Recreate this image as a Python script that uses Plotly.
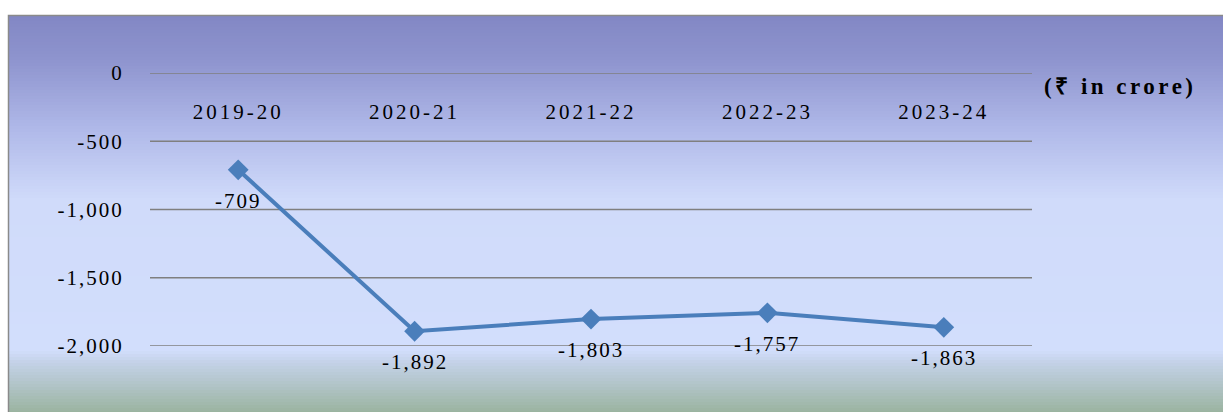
import plotly.graph_objects as go

years = ["2019-20", "2020-21", "2021-22", "2022-23", "2023-24"]
values = [-709, -1892, -1803, -1757, -1863]
y_ticks = [0, -500, -1000, -1500, -2000]
unit_label = "(₹ in crore)"

W, H = 1223, 412
L, R, T, B = 150, 191, 73, 66
PW, PH = W - L - R, H - T - B

def px_x(px):
    return (px - L) / PW

def px_y(py):
    return (H - B - py) / PH

def sp(s, ls=3):
    return f'<span style="letter-spacing:{ls}px">{s}</span>'

# background gradient (pixel y, rgb)
stops = [(15, (130, 135, 196)), (60, (142, 148, 206)), (130, (176, 185, 233)),
         (200, (208, 219, 250)), (350, (210, 222, 252)), (362, (196, 210, 232)),
         (385, (177, 196, 200)), (412, (155, 180, 160))]

def col_at(y):
    for (y0, c0), (y1, c1) in zip(stops, stops[1:]):
        if y0 <= y <= y1:
            t = (y - y0) / (y1 - y0)
            return tuple(round(a + (b - a) * t) for a, b in zip(c0, c1))
    return stops[-1][1]

shapes = []
step = 3
y = 15
while y < H:
    c = col_at(y + step / 2)
    shapes.append(dict(type="rect", xref="paper", yref="paper", layer="below",
                       x0=px_x(8), x1=px_x(W + 2), y0=px_y(min(y + step, H + 1)), y1=px_y(y),
                       fillcolor=f"rgb{c}", line=dict(width=0)))
    y += step
# frame border
shapes.append(dict(type="rect", xref="paper", yref="paper", layer="below",
                   x0=px_x(8.5), x1=px_x(W + 5), y0=px_y(H + 5), y1=px_y(15.5),
                   fillcolor="rgba(0,0,0,0)", line=dict(color="#8a8a8a", width=1.5)))
# gridlines
for v in y_ticks:
    shapes.append(dict(type="line", xref="paper", yref="y", layer="below",
                       x0=0, x1=1, y0=v, y1=v, line=dict(color="#7f7f7f", width=1.5)))

fig = go.Figure()
fig.add_trace(go.Scatter(
    x=years, y=values, mode="lines+markers",
    line=dict(color="#4a7ebb", width=4),
    marker=dict(symbol="diamond", size=16, color="#4a7ebb"),
    cliponaxis=False, showlegend=False, hoverinfo="skip",
))

for yr, v in zip(years, values):
    fig.add_annotation(x=yr, y=v, xref="x", yref="y", yshift=-31, showarrow=False,
                       xanchor="center", yanchor="middle",
                       text=sp(f"{v:,}", 2),
                       font=dict(family="Liberation Serif", size=21, color="#000000"))

fig.add_annotation(xref="paper", yref="paper", x=px_x(1042), y=px_y(86),
                   xanchor="left", yanchor="middle", showarrow=False,
                   text=f"<b>{sp(unit_label, 3.5)}</b>",
                   font=dict(family="Liberation Serif", size=23, color="#000000"))

fig.update_layout(
    width=W, height=H, margin=dict(l=L, r=R, t=T, b=B),
    paper_bgcolor="white", plot_bgcolor="rgba(0,0,0,0)",
    shapes=shapes,
    xaxis=dict(side="bottom", anchor="free", position=1, ticks="outside", ticklen=20,
               tickcolor="rgba(0,0,0,0)", showgrid=False, zeroline=False, showline=False,
               tickvals=years, ticktext=[sp(y_, 3) for y_ in years],
               tickfont=dict(family="Liberation Serif", size=21, color="#000000"),
               range=[-0.5, 4.5]),
    yaxis=dict(range=[-2000, 0], tickvals=y_ticks,
               ticktext=[sp(f"{v:,}", 2) for v in y_ticks],
               showgrid=False, zeroline=False, showline=False, ticks="outside", ticklen=21,
               tickcolor="rgba(0,0,0,0)",
               tickfont=dict(family="Liberation Serif", size=21, color="#000000")),
)

fig.write_html("out.html", config={"displayModeBar": False},
               post_script="document.body.style.margin='0';")
